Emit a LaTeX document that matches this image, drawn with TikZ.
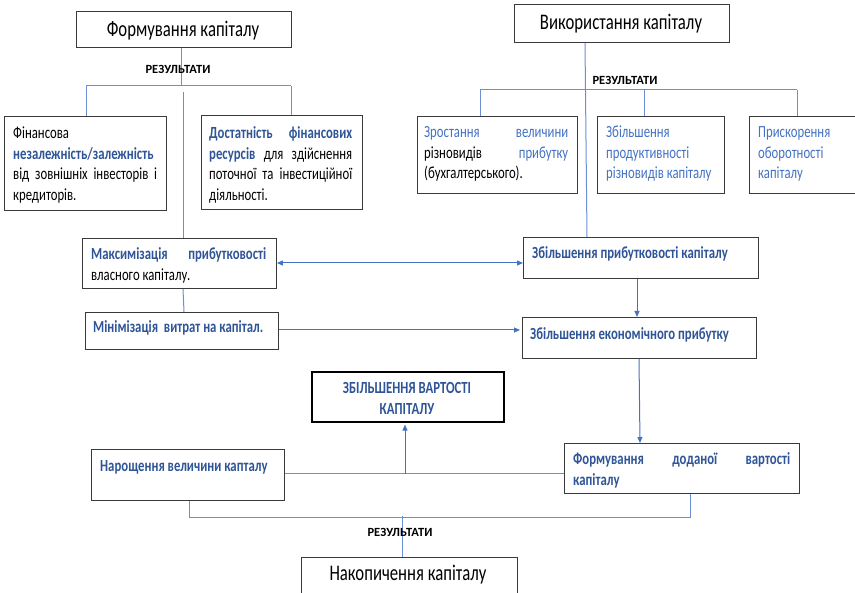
\documentclass[tikz,border=0pt]{standalone}
\usepackage{fontspec}
\setmainfont{Carlito}[FakeStretch=0.75]
\newfontfamily\resfont{Carlito}
\usetikzlibrary{arrows.meta}
\definecolor{boxgray}{HTML}{3A3A3A}
\definecolor{lnblue}{HTML}{6A8FD6}
\definecolor{dkblue}{HTML}{2F5597}
\definecolor{ltblue}{HTML}{4472C4}
\newcommand{\jl}[2]{\makebox[#1][s]{#2}}
\newcommand{\bb}[1]{{\bfseries\color{dkblue}#1}}
\begin{document}
\begin{tikzpicture}[x=1pt,y=-1pt,
  box/.style={draw=boxgray, line width=0.9pt, fill=white, inner sep=0pt, anchor=north west},
  txt/.style={anchor=base west, inner sep=0pt, font=\fontsize{17}{20.5}\selectfont},
  ttl/.style={anchor=base, inner sep=0pt, font=\fontsize{22.3}{26}\selectfont},
  res/.style={anchor=base, inner sep=0pt, font=\resfont\fontsize{12.5}{14}\selectfont\bfseries},
  ln/.style={draw=lnblue, line width=1pt},
  arr/.style={draw=ltblue, line width=1pt, -{Triangle[width=5pt,length=6pt]}},
  darr/.style={draw=ltblue, line width=1pt, {Triangle[width=5pt,length=6pt]}-{Triangle[width=5pt,length=6pt]}}
]
\useasboundingbox (0,0) rectangle (855,593);
\begin{scope}
\clip (0,0) rectangle (855,593);
% boxes
\node[box, minimum width=215pt, minimum height=36pt] (f1) at (76,11) {};
\node[box, minimum width=215pt, minimum height=38pt] (v1) at (514,4) {};
\node[box, minimum width=162pt, minimum height=94pt] (a) at (4,116) {};
\node[box, minimum width=161pt, minimum height=94pt] (b) at (201,115) {};
\node[box, minimum width=160pt, minimum height=77pt] (c) at (417,116) {};
\node[box, minimum width=127pt, minimum height=77pt] (d) at (597,116) {};
\node[box, minimum width=115pt, minimum height=77pt] (e) at (749,116) {};
\node[box, minimum width=194pt, minimum height=50pt] (m) at (82,238) {};
\node[box, minimum width=193pt, minimum height=37pt] (n) at (85,312) {};
\node[box, minimum width=235pt, minimum height=41pt] (p) at (523,237) {};
\node[box, minimum width=234pt, minimum height=41pt] (q) at (522,317) {};
\node[box, draw=black, line width=1.6pt, minimum width=192pt, minimum height=50pt] (z) at (311,371) {};
\node[box, minimum width=193pt, minimum height=51pt] (h) at (91,449) {};
\node[box, minimum width=235pt, minimum height=50pt] (g) at (564,443) {};
\node[box, minimum width=216pt, minimum height=50pt] (k) at (301,557) {};
\end{scope}

% titles
\node[ttl] (tf1) at (183,37) {Формування капіталу};
\node[ttl] (tv1) at (621,30) {Використання капіталу};
\node[ttl] (tk) at (408,581) {Накопичення капіталу};

% connectors
\coordinate (h1l) at (86,86);
\coordinate (h1r) at (291,86);
\coordinate (h1m) at (181,86);
\coordinate (c1t) at (183,92);
\draw[ln] (f1.south -| h1m) -- (h1m);
\draw[ln] (h1l) -- (h1r);
\draw[ln] (h1l) -- (h1l |- a.north);
\draw[ln] (h1r) -- (h1r |- b.north);
\draw[ln] (c1t) -- (c1t |- m.north);
\draw[ln] (m.south -| 183,0) -- (n.north -| 184,0);

\coordinate (h2l) at (480,90);
\coordinate (h2r) at (797,90);
\coordinate (h2m) at (644,90);
\draw[ln] (v1.south -| 585,0) -- (p.north -| 587,0);
\draw[ln] (h2l) -- (h2r);
\draw[ln] (h2l) -- (h2l |- c.north);
\draw[ln] (h2m) -- (h2m |- d.north);
\draw[ln] (h2r) -- (h2r |- e.north);

\draw[darr] (m.east |- 0,263) -- (p.west |- 0,263);
\draw[arr] (p.south -| 637,0) -- (q.north -| 637,0);
\draw[arr] (n.east |- 0,330) -- ([xshift=-2pt]q.west |- 0,330);
\draw[arr] (q.south -| 639,0) -- (g.north -| 640,0);
\draw[ln] (g.west |- 0,474) -- (h.east |- 0,474);
\coordinate (up) at (405,474);
\draw[arr] (up) -- ([yshift=-2pt]z.south -| up);
\coordinate (br1) at (189,518);
\coordinate (br2) at (690,518);
\draw[ln] (h.south -| br1) -- (br1) -- (br2) -- (g.south -| br2);
\coordinate (kt) at (402,516);
\draw[ln] (kt) -- (k.north -| kt);

% results labels
\node[res] (r1) at (178,74) {РЕЗУЛЬТАТИ};
\node[res] (r2) at (625,85) {РЕЗУЛЬТАТИ};
\node[res] (r3) at (400,537) {РЕЗУЛЬТАТИ};

% box texts
\node[txt] (ta) at (13,139) {\parbox[t]{144pt}{Фінансова\\
\jl{144pt}{\bb{незалежність/залежність}}\\
\jl{144pt}{від зовнішніх інвесторів і}\\
кредиторів.}};
\node[txt] (tb) at (209,139) {\parbox[t]{143pt}{\jl{143pt}{\bb{Достатність фінансових}}\\
\jl{143pt}{\bb{ресурсів} для здійснення}\\
\jl{143pt}{поточної та інвестиційної}\\
діяльності.}};
\node[txt] (tc) at (424,138) {\parbox[t]{144pt}{\jl{144pt}{\color{ltblue}Зростання величини}\\
\jl{144pt}{різновидів {\color{ltblue}прибутку}}\\
(бухгалтерського).}};
\node[txt, text=ltblue] (td) at (606,138) {\parbox[t]{115pt}{Збільшення\\продуктивності\\різновидів капіталу}};
\node[txt, text=ltblue] (te) at (758,138) {\parbox[t]{95pt}{Прискорення\\оборотності\\капіталу}};
\node[txt] (tm) at (91,260) {\parbox[t]{175pt}{\jl{175pt}{\bb{Максимізація прибутковості}}\\
власного капіталу.}};
\node[txt] (tn) at (93,333) {\bb{Мінімізація\ \ витрат на капітал.}};
\node[txt] (tp) at (532,259) {\bb{Збільшення прибутковості капіталу}};
\node[txt] (tq) at (530,340) {\bb{Збільшення економічного прибутку}};
\node[txt, anchor=base] (tz) at (407,394) {\parbox[t]{190pt}{\leavevmode\centering\bb{ЗБІЛЬШЕННЯ ВАРТОСТІ\\КАПІТАЛУ}}};
\node[txt] (th) at (100,472) {\bb{Нарощення величини капталу}};
\node[txt] (tg) at (573,465) {\parbox[t]{217pt}{\jl{217pt}{\bb{Формування доданої вартості}}\\\bb{капіталу}}};
\end{tikzpicture}
\end{document}
